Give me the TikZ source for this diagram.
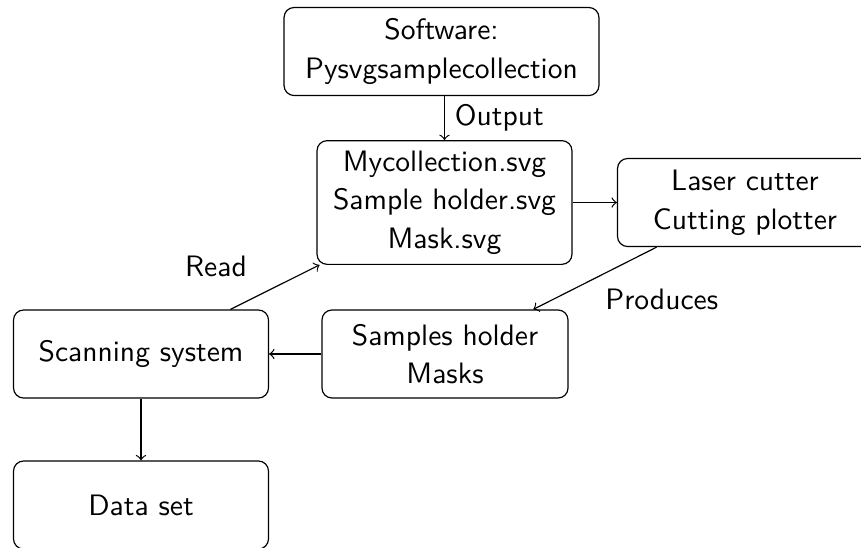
\documentclass[tikz,border=0pt]{standalone}
\usetikzlibrary{positioning}

\tikzset{
  stagebox/.style={draw, rounded corners=3.4pt, align=center,
    minimum width=86.3pt, minimum height=29.8pt, inner sep=3.333pt},
  edgelabel/.style={inner sep=3.333pt},
}

\begin{document}
\begin{tikzpicture}[x=0.3385pt, y=-0.3385pt,
    font=\sffamily\fontsize{10}{13.1}\selectfont, >=to]
  \useasboundingbox (0,0) rectangle (861,547);

  % stages of the workflow
  \node[stagebox, minimum width=106.6pt] (soft) at (441.5,51.5)
    {Software:\\Pysvgsamplecollection};
  \node[stagebox] (myc) at (444.5,202.5)
    {Mycollection.svg\\Sample holder.svg\\Mask.svg};
  \node[stagebox] (laser) at (745,202.5) {Laser cutter\\Cutting plotter};
  \node[stagebox, minimum width=83.3pt] (holder) at (445,354)
    {Samples holder\\Masks};
  \node[stagebox] (scan) at (141,354) {Scanning system};
  \node[stagebox] (data) at (141,505) {Data set};

  % connections between the stages
  \draw[->] (soft.south -| myc) -- node[edgelabel, right] {Output} (myc);
  \draw[->] (myc) -- (laser);
  \draw[->] (laser) -- node[edgelabel, below right] {Produces} (holder);
  \draw[->] (holder) -- (scan);
  \draw[->] (scan) -- node[edgelabel, above left, xshift=-6pt] {Read} (myc);
  \draw[->] (scan) -- (data);
\end{tikzpicture}
\end{document}
